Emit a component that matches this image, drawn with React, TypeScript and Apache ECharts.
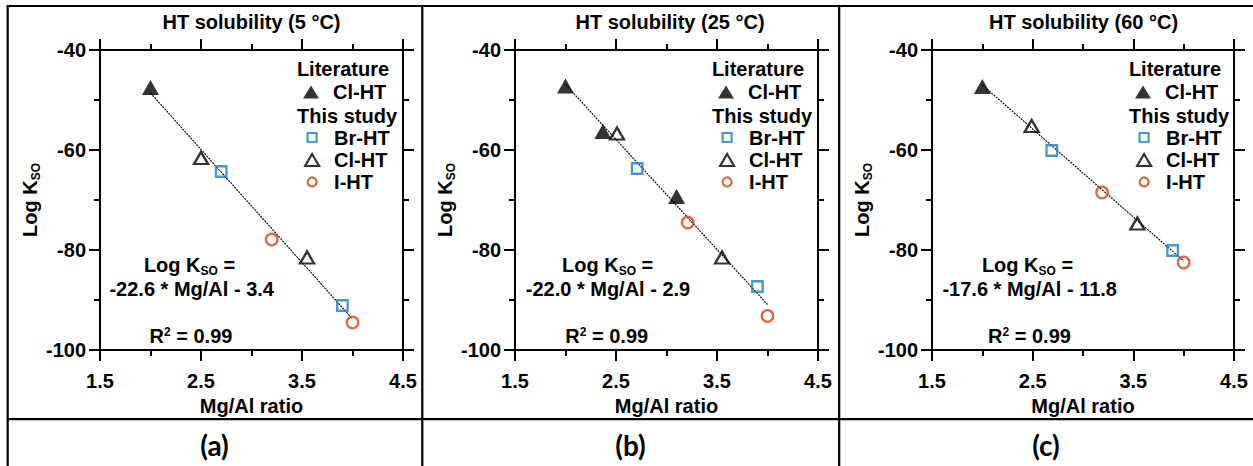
import React, { useEffect, useRef } from 'react';
import * as echarts from 'echarts';

// ---------- data (x = Mg/Al ratio, y = Log Kso) ----------
const panelTitles = ['HT solubility (5 °C)', 'HT solubility (25 °C)', 'HT solubility (60 °C)'];
const panelLabels = ['(a)', '(b)', '(c)'];
const slopes = ['-22.6', '-22.0', '-17.6'];
const intercepts = ['3.4', '2.9', '11.8'];
const r2Values = ['0.99', '0.99', '0.99'];

const xTicks = [1.5, 2.5, 3.5, 4.5];
const yTicks = [-100, -80, -60, -40];

const litClA = [[2.0, -47.5]];
const litClB = [[2.0, -47.2], [2.37, -56.3], [3.1, -69.3]];
const litClC = [[2.0, -47.3]];

const brA = [[2.7, -64.3], [3.9, -91.1]];
const brB = [[2.71, -63.7], [3.9, -87.3]];
const brC = [[2.69, -60.1], [3.89, -80.1]];

const clA = [[2.5, -61.6], [3.55, -81.5]];
const clB = [[2.51, -56.7], [3.55, -81.5]];
const clC = [[2.49, -55.2], [3.54, -74.7]];

const iA = [[3.2, -77.9], [4.0, -94.5]];
const iB = [[3.21, -74.5], [4.0, -93.2]];
const iC = [[3.19, -68.5], [4.0, -82.5]];

const fitA = [[2.0, -48.6], [4.0, -93.8]];
const fitB = [[2.0, -46.9], [4.0, -90.9]];
const fitC = [[2.0, -47.0], [4.0, -82.2]];

const panels = [
  { lit: litClA, br: brA, cl: clA, io: iA, fit: fitA },
  { lit: litClB, br: brB, cl: clB, io: iB, fit: fitB },
  { lit: litClC, br: brC, cl: clC, io: iC, fit: fitC },
];

// ---------- layout / style ----------
const FONT = 'Arial, "Liberation Sans", sans-serif';
const FS = 20;
const BLUE = '#1c7cc6';
const RED = '#d63f17';
const NONE = 'rgba(0,0,0,0)';
const plotLefts = [100, 515, 932];
const plotWidths = [303, 303, 302];
const plotTop = 50;
const plotHeight = 300;
const titleOffsets = [151.5, 155, 151.5];
const eqOffsets = [
  [89.5, 91.7, 91],
  [92.7, 93, 91.7],
  [95.5, 97.7, 97.5],
];
const colCenters = [214.5, 630.5, 1046];

const legendSpec = [
  { name: 'Cl-HT (literature)', label: 'Cl-HT', y: 92, w: 16, h: 13, icon: 'triangle', style: { color: '#000', borderWidth: 0 } },
  { name: 'Br-HT', label: 'Br-HT', y: 137.5, w: 9, h: 9, icon: 'rect', style: { color: NONE, borderColor: BLUE, borderWidth: 2.2 } },
  { name: 'Cl-HT', label: 'Cl-HT', y: 160, w: 14, h: 12, icon: 'triangle', style: { color: NONE, borderColor: '#000', borderWidth: 2.2 } },
  { name: 'I-HT', label: 'I-HT', y: 182, w: 9, h: 9, icon: 'circle', style: { color: NONE, borderColor: RED, borderWidth: 2.2 } },
];

const boldText = { fontFamily: FONT, fontWeight: 'bold' as const, fontSize: FS, color: '#000' };

function axisBase(extra: any) {
  return {
    type: 'value',
    axisLine: { show: true, onZero: false, lineStyle: { color: '#000', width: 2 } },
    axisTick: { show: true, length: 11, lineStyle: { color: '#000', width: 2 } },
    minorTick: { show: true, splitNumber: 2, length: 6, lineStyle: { color: '#000', width: 2 } },
    splitLine: { show: false },
    minorSplitLine: { show: false },
    ...extra,
  };
}

function textStyleG() {
  return { font: `bold ${FS}px ${FONT}`, fill: '#000' };
}

function buildOption() {
  const grid: any[] = [];
  const xAxis: any[] = [];
  const yAxis: any[] = [];
  const series: any[] = [];
  const title: any[] = [];
  const legend: any[] = [];
  const graphic: any[] = [];

  panels.forEach((p, i) => {
    const L = plotLefts[i];
    grid.push({ left: L, top: plotTop, width: plotWidths[i], height: plotHeight });
    const xr = { min: xTicks[0], max: xTicks[xTicks.length - 1], interval: xTicks[1] - xTicks[0] };
    const yr = { min: yTicks[0], max: yTicks[yTicks.length - 1], interval: yTicks[1] - yTicks[0] };
    xAxis.push(axisBase({
      gridIndex: i, position: 'bottom', ...xr,
      axisLabel: { ...boldText, margin: 21, formatter: (v: number) => v.toFixed(1) },
      name: 'Mg/Al ratio', nameLocation: 'middle', nameGap: 42, nameTextStyle: { ...boldText },
    }));
    xAxis.push(axisBase({ gridIndex: i, position: 'top', ...xr, axisLabel: { show: false } }));
    yAxis.push(axisBase({
      gridIndex: i, position: 'left', ...yr,
      axisLabel: { ...boldText, margin: 14 },
      name: '{m|Log K}{s|SO}', nameLocation: 'middle', nameRotate: 90, nameGap: 58,
      nameTextStyle: {
        ...boldText,
        rich: {
          m: { ...boldText, padding: [0, 0, 2, 0], verticalAlign: 'bottom' },
          s: { fontFamily: FONT, fontWeight: 'bold', fontSize: 12, color: '#000', verticalAlign: 'bottom' },
        },
      },
    }));
    yAxis.push(axisBase({ gridIndex: i, position: 'right', ...yr, axisLabel: { show: false } }));

    const ax = { xAxisIndex: 2 * i, yAxisIndex: 2 * i };
    series.push({ type: 'line', ...ax, data: p.fit, symbol: 'none', silent: true, z: 1,
      lineStyle: { color: '#111', width: 1.2, type: [2, 1] } });
    series.push({ type: 'scatter', name: 'Cl-HT (literature)', ...ax, data: p.lit, symbol: 'triangle',
      symbolSize: [17, 15], itemStyle: { color: '#000' }, z: 3 });
    series.push({ type: 'scatter', name: 'Br-HT', ...ax, data: p.br, symbol: 'rect', symbolSize: 10.5,
      itemStyle: { color: NONE, borderColor: BLUE, borderWidth: 2.3 }, z: 3 });
    series.push({ type: 'scatter', name: 'Cl-HT', ...ax, data: p.cl, symbol: 'triangle', symbolSize: [14, 12],
      itemStyle: { color: NONE, borderColor: '#000', borderWidth: 2.3 }, z: 3 });
    series.push({ type: 'scatter', name: 'I-HT', ...ax, data: p.io, symbol: 'circle', symbolSize: 11.5,
      itemStyle: { color: NONE, borderColor: RED, borderWidth: 2.3 }, z: 3 });

    title.push({ text: panelTitles[i], left: L + titleOffsets[i], top: 11.5, textAlign: 'center',
      textStyle: { ...boldText }, padding: 0 });

    legendSpec.forEach((s) => {
      legend.push({
        data: [{ name: s.name, icon: s.icon }],
        left: L + 211 - s.w / 2, top: s.y - FS / 2, padding: 0,
        itemWidth: s.w, itemHeight: s.h, symbolKeepAspect: false, selectedMode: false,
        formatter: () => s.label,
        itemStyle: s.style,
        textStyle: { ...boldText, padding: [0, 0, 0, 17 - s.w / 2] },
      });
    });

    graphic.push({ type: 'text', x: L + 243, y: 69, style: { text: 'Literature', ...textStyleG(), align: 'center', verticalAlign: 'middle' } });
    graphic.push({ type: 'text', x: L + 247, y: 116, style: { text: 'This study', ...textStyleG(), align: 'center', verticalAlign: 'middle' } });

    const eo = eqOffsets[i];
    graphic.push({ type: 'text', x: L + eo[0], y: 266, style: {
      text: '{m|Log K}{s|SO}{m| =}', ...textStyleG(), align: 'center', verticalAlign: 'middle',
      rich: {
        m: { font: `bold ${FS}px ${FONT}`, fill: '#000', padding: [0, 0, 2, 0], verticalAlign: 'bottom' },
        s: { font: `bold 12px ${FONT}`, fill: '#000', verticalAlign: 'bottom' },
      },
    } });
    graphic.push({ type: 'text', x: L + eo[1], y: 289, style: {
      text: `${slopes[i]} * Mg/Al - ${intercepts[i]}`, ...textStyleG(), align: 'center', verticalAlign: 'middle' } });
    graphic.push({ type: 'text', x: L + eo[2], y: 336, style: {
      text: `{m|R}{p|2}{m| = ${r2Values[i]}}`, ...textStyleG(), align: 'center', verticalAlign: 'middle',
      rich: {
        m: { font: `bold ${FS}px ${FONT}`, fill: '#000', verticalAlign: 'bottom' },
        p: { font: `bold 12px ${FONT}`, fill: '#000', verticalAlign: 'top' },
      },
    } });

    graphic.push({ type: 'text', x: colCenters[i], y: 445, style: {
      text: panelLabels[i], font: 'bold 28px Lato, "Open Sans", sans-serif', fill: '#000', align: 'center', verticalAlign: 'middle' } });
  });

  // table borders
  const lineStyle = { stroke: '#000', lineWidth: 2.2 };
  graphic.push({ type: 'line', shape: { x1: 6.7, y1: 6, x2: 1253, y2: 6 }, style: lineStyle });
  graphic.push({ type: 'line', shape: { x1: 6.7, y1: 419.2, x2: 1253, y2: 419.2 }, style: lineStyle });
  [7.7, 422.3, 839.2].forEach((x) => {
    graphic.push({ type: 'line', shape: { x1: x, y1: 5, x2: x, y2: 466 }, style: lineStyle });
  });

  return {
    animation: false,
    backgroundColor: '#fff',
    title, grid, xAxis, yAxis, series, legend, graphic,
  };
}

export default function App() {
  const ref = useRef<HTMLDivElement>(null);
  useEffect(() => {
    document.body.style.margin = '0';
    if (!ref.current) return;
    const chart = echarts.init(ref.current, undefined, { renderer: 'svg' });
    chart.setOption(buildOption() as any);
    return () => chart.dispose();
  }, []);
  return <div ref={ref} style={{ width: 1253, height: 466 }} />;
}
